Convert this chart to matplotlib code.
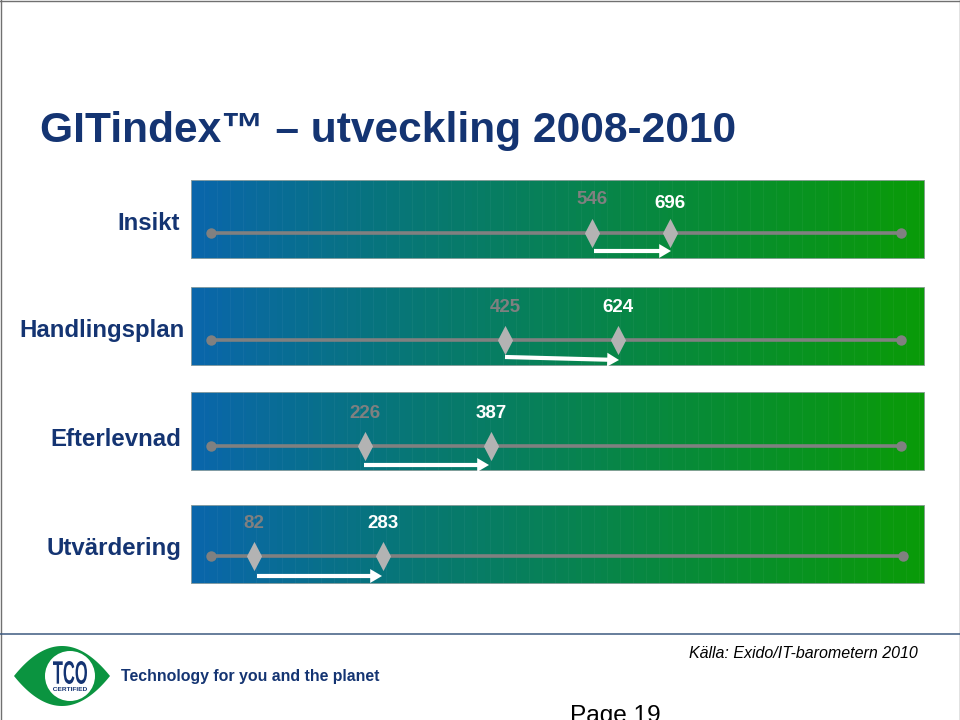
import numpy as np
import matplotlib
matplotlib.use("Agg")
import matplotlib.pyplot as plt
from matplotlib.colors import LinearSegmentedColormap
from matplotlib.patches import Circle, PathPatch, Polygon, Rectangle
from matplotlib.path import Path
from matplotlib.textpath import TextPath
from matplotlib.font_manager import FontProperties
from matplotlib.transforms import Affine2D

plt.rcParams['font.family'] = ['Liberation Sans', 'DejaVu Sans']

# data
categories = ['Insikt', 'Handlingsplan', 'Efterlevnad', 'Utvärdering']
values_2008 = [546, 425, 226, 82]
values_2010 = [696, 624, 387, 283]
# where the diamonds sit along each track (0-1000), not proportional to the scores
track_2008 = [552, 426, 223, 62]
track_2010 = [665, 590, 406, 249]

NAVY = '#143472'
W, H = 960, 720

# (top, bottom) of bands in pixels and the track y and label positions
band_y = [(180, 259), (287, 366), (392, 471), (505, 584)]
track_y = [233, 340, 446, 556]
cat_right = [180, 185, 181, 181]
cat_y = [223, 330, 440, 548]
label_2008_y = [200, 307, 413, 523]
label_2010_y = [203, 308, 414, 523]
# arrow tail/head in pixels (x0, y0, x1, y1)
arrows = [(594, 251, 671, 251), (505, 357, 619, 360), (364, 465, 489, 465), (257, 576, 382, 576)]

cmap = LinearSegmentedColormap.from_list('band', ['#0a66ab', '#07796f', '#078a3a', '#0a9b08'])
diamond = Path([(-0.52, 0), (0, 1), (0.52, 0), (0, -1), (-0.52, 0)], closed=True)


def px_axes(fig, x0, y0, x1, y1):
    return fig.add_axes([x0 / W, 1 - y1 / H, (x1 - x0) / W, (y1 - y0) / H])


def draw_band(fig, i):
    top, bottom = band_y[i]
    ax = px_axes(fig, 191, top, 925, bottom)
    # 0 and 1000 are the end dots of the track
    left, right = 211, 901 if i < 3 else 903
    scale = 1000 / (right - left)
    ax.set_xlim((191 - left) * scale, (925 - left) * scale)
    ax.set_ylim(bottom, top)
    ax.axis('off')

    xmin, xmax = ax.get_xlim()
    grad = np.linspace(0, 1, 120).reshape(1, -1)
    ax.imshow(grad, cmap=cmap, extent=[xmin, xmax, bottom, top], aspect='auto',
              interpolation='nearest', zorder=1)
    # faint vertical banding of the gradient
    ax.vlines(np.arange(xmin, xmax, 13 * scale), top, bottom, color='white', lw=0.7, alpha=0.04, zorder=1.5)
    ax.add_patch(Rectangle((xmin, top), xmax - xmin, bottom - top, fill=False,
                           ec='#9aa7a5', lw=1.2, zorder=2))

    y = track_y[i]
    ax.plot([0, 1000], [y, y], color='#808080', lw=2.6, solid_capstyle='butt', zorder=3)
    ax.plot([0, 1000], [y, y], 'o', color='#808080', ms=7.5, mec='none', zorder=3)

    a, b = track_2008[i], track_2010[i]
    ax.plot([a, b], [y, y], linestyle='none', marker=diamond, color='#b3b3b3', ms=21, mew=0, zorder=4)

    # white arrow below the track
    x0, y0, x1, y1 = arrows[i]
    ax.annotate('', xy=((x1 - left) * scale, y1), xytext=((x0 - left) * scale, y0), zorder=5,
                arrowprops=dict(arrowstyle='simple,head_width=1.0,head_length=0.85,tail_width=0.3',
                                color='white', lw=0, shrinkA=0, shrinkB=0, mutation_scale=10))

    ax.text(a, label_2008_y[i], str(values_2008[i]), color='#808080', fontsize=13.5, fontweight='bold',
            ha='center', va='center', zorder=5)
    ax.text(b, label_2010_y[i], str(values_2010[i]), color='white', fontsize=13.5,
            fontweight='bold', ha='center', va='center', zorder=5)


def fitted_text(ax, s, x0, y0, x1, y1):
    # squeeze a text into a pixel box, the axes y runs downwards
    tp = TextPath((0, 0), s, size=10, prop=FontProperties(family='Liberation Sans', weight='bold'))
    box = tp.get_extents()
    tr = (Affine2D().translate(-box.x0, -box.y0).scale((x1 - x0) / box.width, -(y1 - y0) / box.height)
          .translate(x0, y1))
    ax.add_patch(PathPatch(tp, transform=tr + ax.transData, fc=NAVY, lw=0))


def draw_logo(bg):
    # eye shape
    t = np.linspace(-1, 1, 60)
    xs = 14 + (110 - 14) * (t + 1) / 2
    half = 30 * (1 - t ** 2)
    outline = np.r_[np.c_[xs, 676 - half], np.c_[xs[::-1], 676 + half[::-1]]]
    bg.add_patch(Polygon(outline, closed=True, color='#0b9440', lw=0))
    bg.add_patch(Circle((70, 676), 25, color='white', lw=0))
    fitted_text(bg, 'TCO', 53, 661, 87, 684)
    fitted_text(bg, 'CERTIFIED', 53, 687, 87, 691)


fig = plt.figure(figsize=(9.6, 7.2), dpi=100, facecolor='white')
bg = fig.add_axes([0, 0, 1, 1])
bg.set_xlim(0, W)
bg.set_ylim(H, 0)
bg.axis('off')

# slide frame and footer rule
bg.plot([0.5, 0.5], [0, H], color='#707070', lw=1)
bg.plot([959.5, 959.5], [0, H], color='#707070', lw=1)
bg.plot([0, W], [0.5, 0.5], color='#707070', lw=1)
bg.plot([0, W], [633.5, 633.5], color='#3d5a80', lw=1.1)

bg.text(40, 131, 'GITindex™ – utveckling 2008-2010', color=NAVY, fontsize=30.6,
        fontweight='bold', ha='left', va='center')

for i, name in enumerate(categories):
    bg.text(cat_right[i], cat_y[i], name, color=NAVY, fontsize=17.3, fontweight='bold',
            ha='right', va='center')
    draw_band(fig, i)

draw_logo(bg)
bg.text(121, 676, 'Technology for you and the planet', color=NAVY, fontsize=11.4,
        fontweight='bold', ha='left', va='center')
bg.text(689, 653, 'Källa: Exido/IT-barometern 2010', color='black', fontsize=11.55,
        fontstyle='italic', ha='left', va='center')
bg.text(570, 716, 'Page 19', color='black', fontsize=17.6, ha='left', va='center')

fig.savefig('out.png', dpi=100)
